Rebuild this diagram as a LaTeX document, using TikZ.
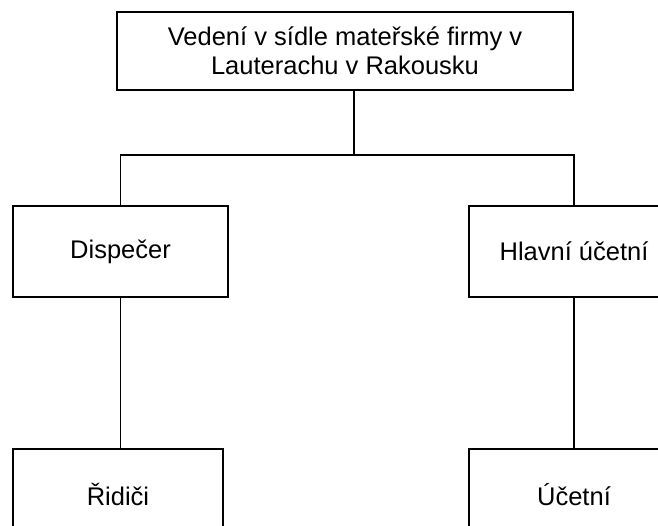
\documentclass[tikz,border=0pt]{standalone}
\usepackage{fontspec}
\setmainfont{Liberation Sans}
\begin{document}
\begin{tikzpicture}[x=1pt,y=-1pt,line width=1.6pt,
    every node/.style={draw,shape=rectangle,inner sep=0pt,align=center,
      font=\fontsize{25.5}{29}\selectfont}]
  \clip (0,0) rectangle (658,526);
  \node[minimum width=456pt,minimum height=78pt] (vedeni) at (345,51)
    {Vedení v sídle mateřské firmy v\\Lauterachu v Rakousku};
  \node[minimum width=215pt,minimum height=91pt] (dispecer) at (120.5,251.5) {Dispečer};
  \node[minimum width=210pt,minimum height=91pt] (hlavni) at (574,251.5) {Hlavní účetní};
  \node[minimum width=210pt,minimum height=91pt] (ridici) at (118,494.5) {Řidiči};
  \node[minimum width=210pt,minimum height=91pt] (ucetni) at (574,494.5) {Účetní};
  \coordinate (branch) at (354,155);
  \draw (vedeni.south -| branch) -- (branch);
  \draw (dispecer.north) |- (branch) -| (hlavni.north);
  \draw (dispecer.south) -- (dispecer.south |- ridici.north);
  \draw (hlavni.south) -- (ucetni.north);
\end{tikzpicture}
\end{document}
